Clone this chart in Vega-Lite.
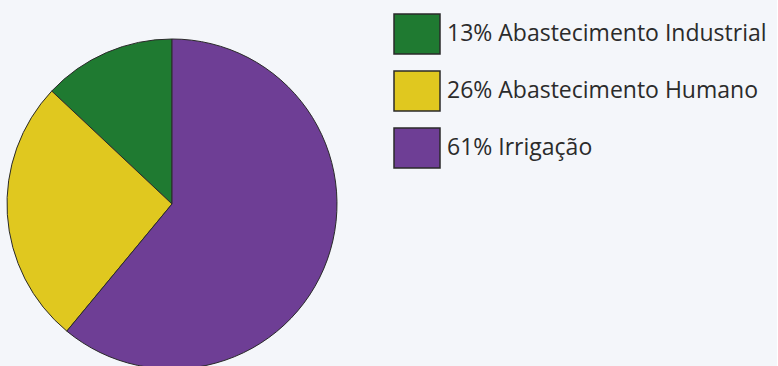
{
  "$schema": "https://vega.github.io/schema/vega-lite/v6.json",
  "width": 344,
  "height": 408,
  "padding": {"left": 0, "top": 0, "right": 10, "bottom": 0},
  "background": "#f4f6fa",
  "data": {
    "values": [
      {"rotulo": "13% Abastecimento Industrial", "valor": 13, "ordem": 3},
      {"rotulo": "26% Abastecimento Humano", "valor": 26, "ordem": 2},
      {"rotulo": "61% Irrigação", "valor": 61, "ordem": 1}
    ]
  },
  "mark": {"type": "arc", "radius": 165, "stroke": "#2a2a2a", "strokeWidth": 1},
  "encoding": {
    "theta": {"field": "valor", "type": "quantitative", "stack": true},
    "order": {"field": "ordem", "type": "quantitative"},
    "color": {
      "field": "rotulo",
      "type": "nominal",
      "scale": {
        "domain": ["13% Abastecimento Industrial", "26% Abastecimento Humano", "61% Irrigação"],
        "range": ["#1f7a31", "#e0c81f", "#6e3e95"]
      },
      "legend": {
        "title": null,
        "orient": "none",
        "legendX": 396,
        "legendY": 13,
        "padding": 0,
        "symbolType": "M-1.15,-1H1.15V1H-1.15Z",
        "symbolSize": 1600,
        "symbolStrokeColor": "#2a2a2a",
        "symbolStrokeWidth": 1.5,
        "symbolOpacity": 1,
        "labelFont": "Open Sans",
        "labelFontSize": 23,
        "labelColor": "#2b2b2b",
        "labelOffset": 9,
        "labelLimit": 400,
        "rowPadding": 11
      }
    }
  },
  "config": {"view": {"stroke": null}}
}
